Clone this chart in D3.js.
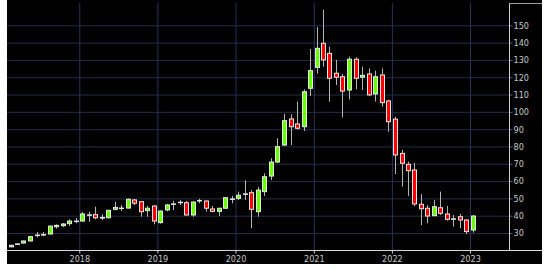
<!DOCTYPE html>
<html>
<head>
<meta charset="utf-8">
<script src="https://cdn.jsdelivr.net/npm/d3@7"></script>
<style>
  body { margin: 0; background: #fff; }
  svg { display: block; }
  .lbl { font-family: "Liberation Sans Narrow", "DejaVu Sans Condensed", sans-serif; font-size: 9px; fill: #c8c8c8; }
</style>
</head>
<body>
<svg id="chart" width="550" height="270"></svg>
<script>
// monthly candles, Feb 2017 .. Jan 2023
const months = [
  '2017-02','2017-03','2017-04','2017-05','2017-06','2017-07','2017-08','2017-09','2017-10','2017-11','2017-12',
  '2018-01','2018-02','2018-03','2018-04','2018-05','2018-06','2018-07','2018-08','2018-09','2018-10','2018-11','2018-12',
  '2019-01','2019-02','2019-03','2019-04','2019-05','2019-06','2019-07','2019-08','2019-09','2019-10','2019-11','2019-12',
  '2020-01','2020-02','2020-03','2020-04','2020-05','2020-06','2020-07','2020-08','2020-09','2020-10','2020-11','2020-12',
  '2021-01','2021-02','2021-03','2021-04','2021-05','2021-06','2021-07','2021-08','2021-09','2021-10','2021-11','2021-12',
  '2022-01','2022-02','2022-03','2022-04','2022-05','2022-06','2022-07','2022-08','2022-09','2022-10','2022-11','2022-12',
  '2023-01'
];
const open = [
  22.0, 23.4, 24.2, 25.4, 28.5, 28.9, 29.4, 33.6, 34.2, 35.4, 36.7,
  36.9, 40.3, 40.6, 38.6, 38.8, 43.7, 44.2, 44.4, 49.1, 48.1, 42.9, 45.6,
  36.0, 43.3, 46.6, 47.6, 47.5, 40.4, 48.6, 48.5, 43.9, 42.5, 44.3, 49.5,
  50.0, 52.4, 53.3, 42.3, 53.9, 62.9, 71.0, 80.8, 95.9, 93.0, 91.4, 113.6,
  125.7, 139.6, 133.8, 122.3, 120.3, 112.6, 130.4, 120.0, 121.9, 110.3, 121.3, 106.3,
  95.8, 76.0, 69.7, 66.4, 46.6, 44.3, 40.0, 44.6, 41.0, 38.0, 39.4, 37.5,
  31.7
];
const high = [
  23.2, 24.0, 25.6, 28.4, 30.6, 30.6, 34.2, 35.0, 35.8, 37.9, 38.7,
  42.1, 42.3, 45.2, 40.8, 43.4, 48.0, 46.2, 50.0, 49.6, 48.4, 45.6, 45.9,
  43.0, 46.8, 48.7, 49.0, 48.5, 48.2, 49.8, 48.8, 45.6, 44.5, 50.6, 51.4,
  53.9, 60.4, 54.8, 56.7, 64.5, 73.2, 84.7, 98.7, 98.6, 105.9, 113.0, 136.3,
  149.0, 159.0, 137.6, 130.0, 121.9, 131.9, 131.5, 126.1, 125.1, 123.8, 125.1, 107.0,
  97.2, 78.0, 71.2, 70.6, 52.5, 46.2, 49.1, 53.9, 45.6, 40.4, 41.0, 38.0,
  40.4
];
const low = [
  21.8, 23.2, 24.0, 25.2, 27.5, 28.0, 29.2, 32.5, 33.5, 34.0, 35.6,
  36.5, 36.5, 37.9, 37.5, 38.5, 43.1, 42.7, 44.2, 46.2, 39.4, 39.4, 35.0,
  35.4, 42.5, 43.3, 46.2, 40.2, 39.4, 47.2, 42.3, 42.0, 39.8, 44.0, 47.2,
  49.0, 49.1, 32.7, 39.4, 51.4, 60.6, 70.5, 80.3, 80.8, 89.9, 88.9, 109.1,
  122.0, 126.1, 105.9, 115.5, 96.8, 107.2, 113.0, 112.6, 109.1, 105.9, 103.0, 88.5,
  64.0, 56.7, 51.4, 45.6, 34.6, 35.6, 39.8, 40.4, 37.1, 33.6, 32.7, 29.4,
  30.2
];
const close = [
  22.9, 23.7, 25.4, 27.9, 28.8, 29.1, 34.0, 34.4, 35.2, 36.9, 36.9,
  41.0, 40.5, 38.8, 39.0, 43.1, 44.8, 44.4, 49.5, 47.2, 42.3, 44.3, 36.9,
  42.7, 46.2, 46.8, 47.8, 40.4, 47.9, 48.8, 44.3, 42.5, 44.3, 50.4, 49.7,
  51.8, 52.6, 43.7, 54.8, 62.5, 71.0, 79.9, 94.9, 91.4, 90.5, 111.6, 123.8,
  136.7, 130.0, 119.4, 120.0, 112.0, 130.4, 119.4, 121.1, 109.8, 120.3, 105.3, 94.3,
  75.1, 70.3, 66.0, 46.8, 44.0, 39.8, 45.2, 41.4, 37.9, 38.2, 37.5, 30.8,
  39.8
];
const yTicks = [30, 40, 50, 60, 70, 80, 90, 100, 110, 120, 130, 140, 150];
const yearTicks = ['2018', '2019', '2020', '2021', '2022', '2023'];

const W = 550, H = 270;
const LEFT = 7, RIGHT = 542, TOP = 3, BOTTOM = 264;
const AXIS_X = 509.5, AXIS_Y = 250.5;
const GRID = '#262c48';

const parseMonth = d3.timeParse('%Y-%m');
const candles = months.map((m, i) => {
  const d = parseMonth(m);
  return {
    date: new Date(d.getFullYear(), d.getMonth(), 15),
    o: open[i], h: high[i], l: low[i], c: close[i]
  };
});

const x = d3.scaleTime()
  .domain([new Date(2017, 0, 1), new Date(2023, 0, 1)])
  .range([1.2, 470]);
const y = d3.scaleLinear().domain([30, 150]).range([233, 25.3]);

const svg = d3.select('#chart');

svg.append('rect')
  .attr('x', LEFT).attr('y', 0)
  .attr('width', RIGHT - LEFT).attr('height', BOTTOM)
  .attr('fill', '#000');

svg.append('clipPath').attr('id', 'plot')
  .append('rect')
  .attr('x', LEFT + 0.5).attr('y', TOP)
  .attr('width', AXIS_X - LEFT - 1).attr('height', AXIS_Y - TOP);

// horizontal grid
svg.append('g')
  .attr('transform', `translate(${AXIS_X},0)`)
  .call(d3.axisLeft(y).tickValues(yTicks).tickSize(AXIS_X - LEFT).tickFormat(''))
  .call(g => g.select('.domain').remove())
  .call(g => g.selectAll('.tick line').attr('stroke', GRID));

// vertical grid at year starts
const yearDates = yearTicks.map(s => new Date(+s, 0, 1));
svg.append('g')
  .attr('transform', `translate(0,${AXIS_Y})`)
  .call(d3.axisBottom(x).tickValues(yearDates).tickSize(-(AXIS_Y - TOP)).tickFormat(''))
  .call(g => g.select('.domain').remove())
  .call(g => g.selectAll('.tick line').attr('stroke', '#2a3158'));

// candles
const cg = svg.append('g').attr('clip-path', 'url(#plot)');
const bodyW = 4;
const candle = cg.selectAll('g.candle')
  .data(candles)
  .enter()
  .append('g')
  .attr('class', 'candle')
  .attr('transform', d => `translate(${Math.round(x(d.date)) + 0.5},0)`);

candle.append('line')
  .attr('y1', d => y(d.h))
  .attr('y2', d => y(d.l))
  .attr('stroke', '#b4b4b4');

candle.append('rect')
  .attr('x', -bodyW / 2)
  .attr('y', d => y(Math.max(d.o, d.c)))
  .attr('width', bodyW)
  .attr('height', d => Math.max(0.5, Math.abs(y(d.o) - y(d.c))))
  .attr('fill', d => d.c >= d.o ? '#66ff00' : '#ff0000')
  .attr('stroke', '#e6e6e6')
  .attr('stroke-width', 1);

// right value axis
svg.append('g')
  .attr('transform', `translate(${AXIS_X},0)`)
  .call(d3.axisRight(y).tickValues(yTicks).tickSize(3).tickPadding(1))
  .call(g => g.select('.domain').remove())
  .call(g => g.selectAll('.tick line').attr('stroke', '#555c7a'))
  .call(g => g.selectAll('.tick text').attr('class', 'lbl').attr('fill', null));

svg.append('line')
  .attr('x1', AXIS_X).attr('x2', AXIS_X)
  .attr('y1', TOP).attr('y2', AXIS_Y)
  .attr('stroke', '#d0d0d0');
svg.append('line')
  .attr('x1', AXIS_X).attr('x2', RIGHT)
  .attr('y1', TOP + 0.5).attr('y2', TOP + 0.5)
  .attr('stroke', '#9a9a9a');

// time axis
svg.append('g')
  .attr('transform', `translate(0,${AXIS_Y})`)
  .call(d3.axisBottom(x).tickValues(yearDates).tickSize(3).tickPadding(2).tickFormat(d3.timeFormat('%Y')))
  .call(g => g.select('.domain').remove())
  .call(g => g.selectAll('.tick line').attr('stroke', '#d0d0d0'))
  .call(g => g.selectAll('.tick text').attr('class', 'lbl').attr('fill', null));

svg.append('line')
  .attr('x1', LEFT).attr('x2', RIGHT)
  .attr('y1', AXIS_Y).attr('y2', AXIS_Y)
  .attr('stroke', '#d8d8d8');
</script>
</body>
</html>
